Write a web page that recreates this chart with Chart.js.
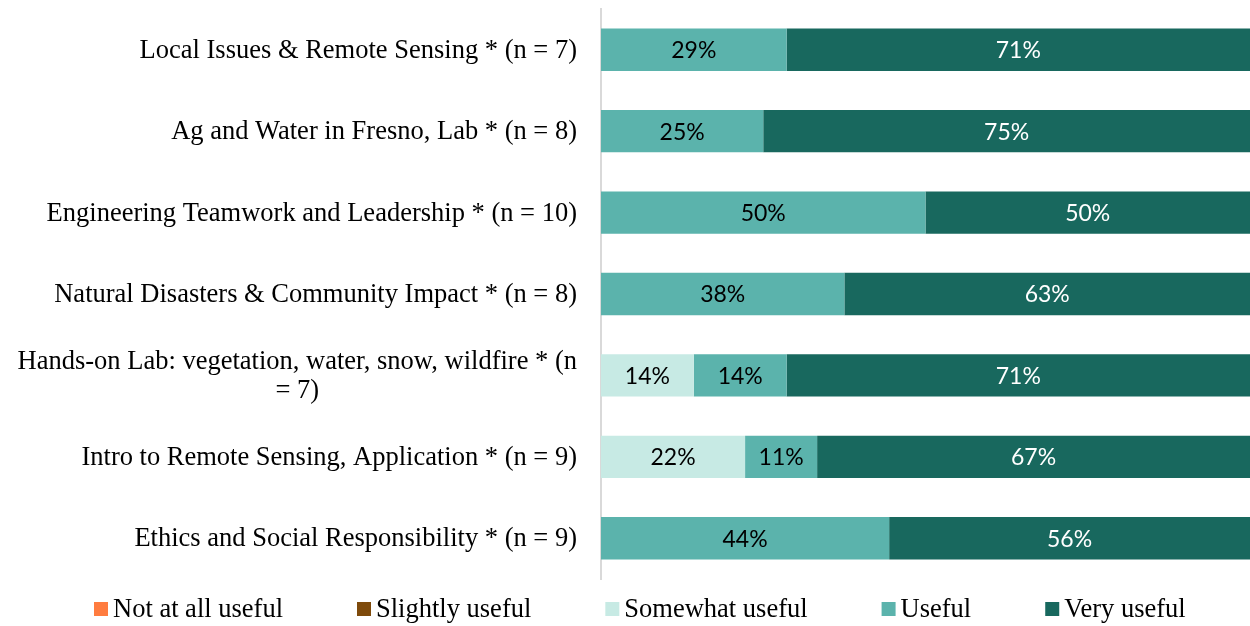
<!DOCTYPE html>
<html>
<head>
<meta charset="utf-8">
<script src="https://cdn.jsdelivr.net/npm/chart.js@4"></script>
<style>
  body { margin: 0; background: #fff; }
  #wrap { width: 1250px; height: 626px; position: relative; }
</style>
</head>
<body>
<div id="wrap"><canvas id="myChart"></canvas></div>
<script>
var categories = [
  "Local Issues & Remote Sensing * (n = 7)",
  "Ag and Water in Fresno, Lab * (n = 8)",
  "Engineering Teamwork and Leadership * (n = 10)",
  "Natural Disasters & Community Impact * (n = 8)",
  ["Hands-on Lab: vegetation, water, snow, wildfire * (n", "= 7)"],
  "Intro to Remote Sensing, Application * (n = 9)",
  "Ethics and Social Responsibility * (n = 9)"
];

var seriesNames = ["Not at all useful", "Slightly useful", "Somewhat useful", "Useful", "Very useful"];

// percent of respondents
var notAtAll = [0, 0, 0, 0, 0, 0, 0];
var slightly = [0, 0, 0, 0, 0, 0, 0];
var somewhat = [0, 0, 0, 0, 14.3, 22.2, 0];
var useful   = [28.6, 25, 50, 37.5, 14.3, 11.1, 44.4];
var veryUseful = [71.4, 75, 50, 62.5, 71.4, 66.7, 55.6];

var barColors = ["#FF7C3F", "#7E4A0B", "#C7EAE4", "#5BB3AC", "#18685E"];
var labelColors = ["#000", "#000", "#000", "#000", "#fff"];

var serif = "'Liberation Serif', 'Times New Roman', serif";

// value labels in the middle of each segment
var barLabels = {
  id: "barLabels",
  afterDatasetsDraw(chart) {
    var ctx = chart.ctx;
    ctx.save();
    ctx.font = "23px Lato";
    ctx.textAlign = "center";
    ctx.textBaseline = "middle";
    chart.data.datasets.forEach(function (ds, di) {
      var meta = chart.getDatasetMeta(di);
      meta.data.forEach(function (bar, i) {
        var v = ds.data[i];
        if (!v) return;
        var p = bar.getProps(["x", "y", "base"], true);
        ctx.fillStyle = labelColors[di];
        ctx.fillText(Math.round(v) + "%", (p.x + p.base) / 2, p.y + 1);
      });
    });
    ctx.restore();
  }
};

// category labels: right aligned block, wrapped lines centred
var catLabels = {
  id: "catLabels",
  afterDraw(chart) {
    var ctx = chart.ctx;
    var ys = chart.scales.y;
    var right = chart.chartArea.left - 24;
    ctx.save();
    ctx.font = "26.5px " + serif;
    ctx.fillStyle = "#000";
    ctx.textBaseline = "middle";
    categories.forEach(function (c, i) {
      var y = ys.getPixelForTick(i);
      var lines = Array.isArray(c) ? c : [c];
      var w = Math.max.apply(null, lines.map(function (l) { return ctx.measureText(l).width; }));
      var lh = 29;
      var y0 = y - (lines.length - 1) * lh / 2;
      ctx.textAlign = "center";
      lines.forEach(function (l, k) {
        ctx.fillText(l, right - w / 2, y0 + k * lh + 1);
      });
    });
    ctx.restore();
  }
};

// legend row at the bottom
var bottomLegend = {
  id: "bottomLegend",
  afterDraw(chart) {
    var ctx = chart.ctx;
    ctx.save();
    ctx.font = "26.5px " + serif;
    ctx.textBaseline = "middle";
    ctx.textAlign = "left";
    var x = 94, y = 609;
    chart.data.datasets.forEach(function (ds, di) {
      ctx.fillStyle = ds.backgroundColor;
      ctx.fillRect(x, y - 7, 14, 14);
      ctx.fillStyle = "#000";
      ctx.fillText(ds.label, x + 19, y + 1);
      x += 19 + ctx.measureText(ds.label).width + 74;
    });
    ctx.restore();
  }
};

var allData = [notAtAll, slightly, somewhat, useful, veryUseful];

new Chart("myChart", {
  type: "bar",
  data: {
    labels: categories,
    datasets: seriesNames.map(function (name, i) {
      return {
        label: name,
        data: allData[i],
        backgroundColor: barColors[i],
        borderWidth: 0,
        barPercentage: 0.52,
        categoryPercentage: 1
      };
    })
  },
  options: {
    indexAxis: "y",
    responsive: true,
    maintainAspectRatio: false,
    animation: false,
    layout: { padding: { left: 601, right: 0, top: 9, bottom: 47 } },
    plugins: {
      legend: { display: false },
      tooltip: { enabled: false }
    },
    scales: {
      x: { stacked: true, min: 0, max: 100, display: false },
      y: {
        stacked: true,
        ticks: { display: false },
        grid: { display: false, drawTicks: false },
        border: { display: true, color: "#D9D9D9", width: 2 }
      }
    }
  },
  plugins: [barLabels, catLabels, bottomLegend]
});
</script>
</body>
</html>
